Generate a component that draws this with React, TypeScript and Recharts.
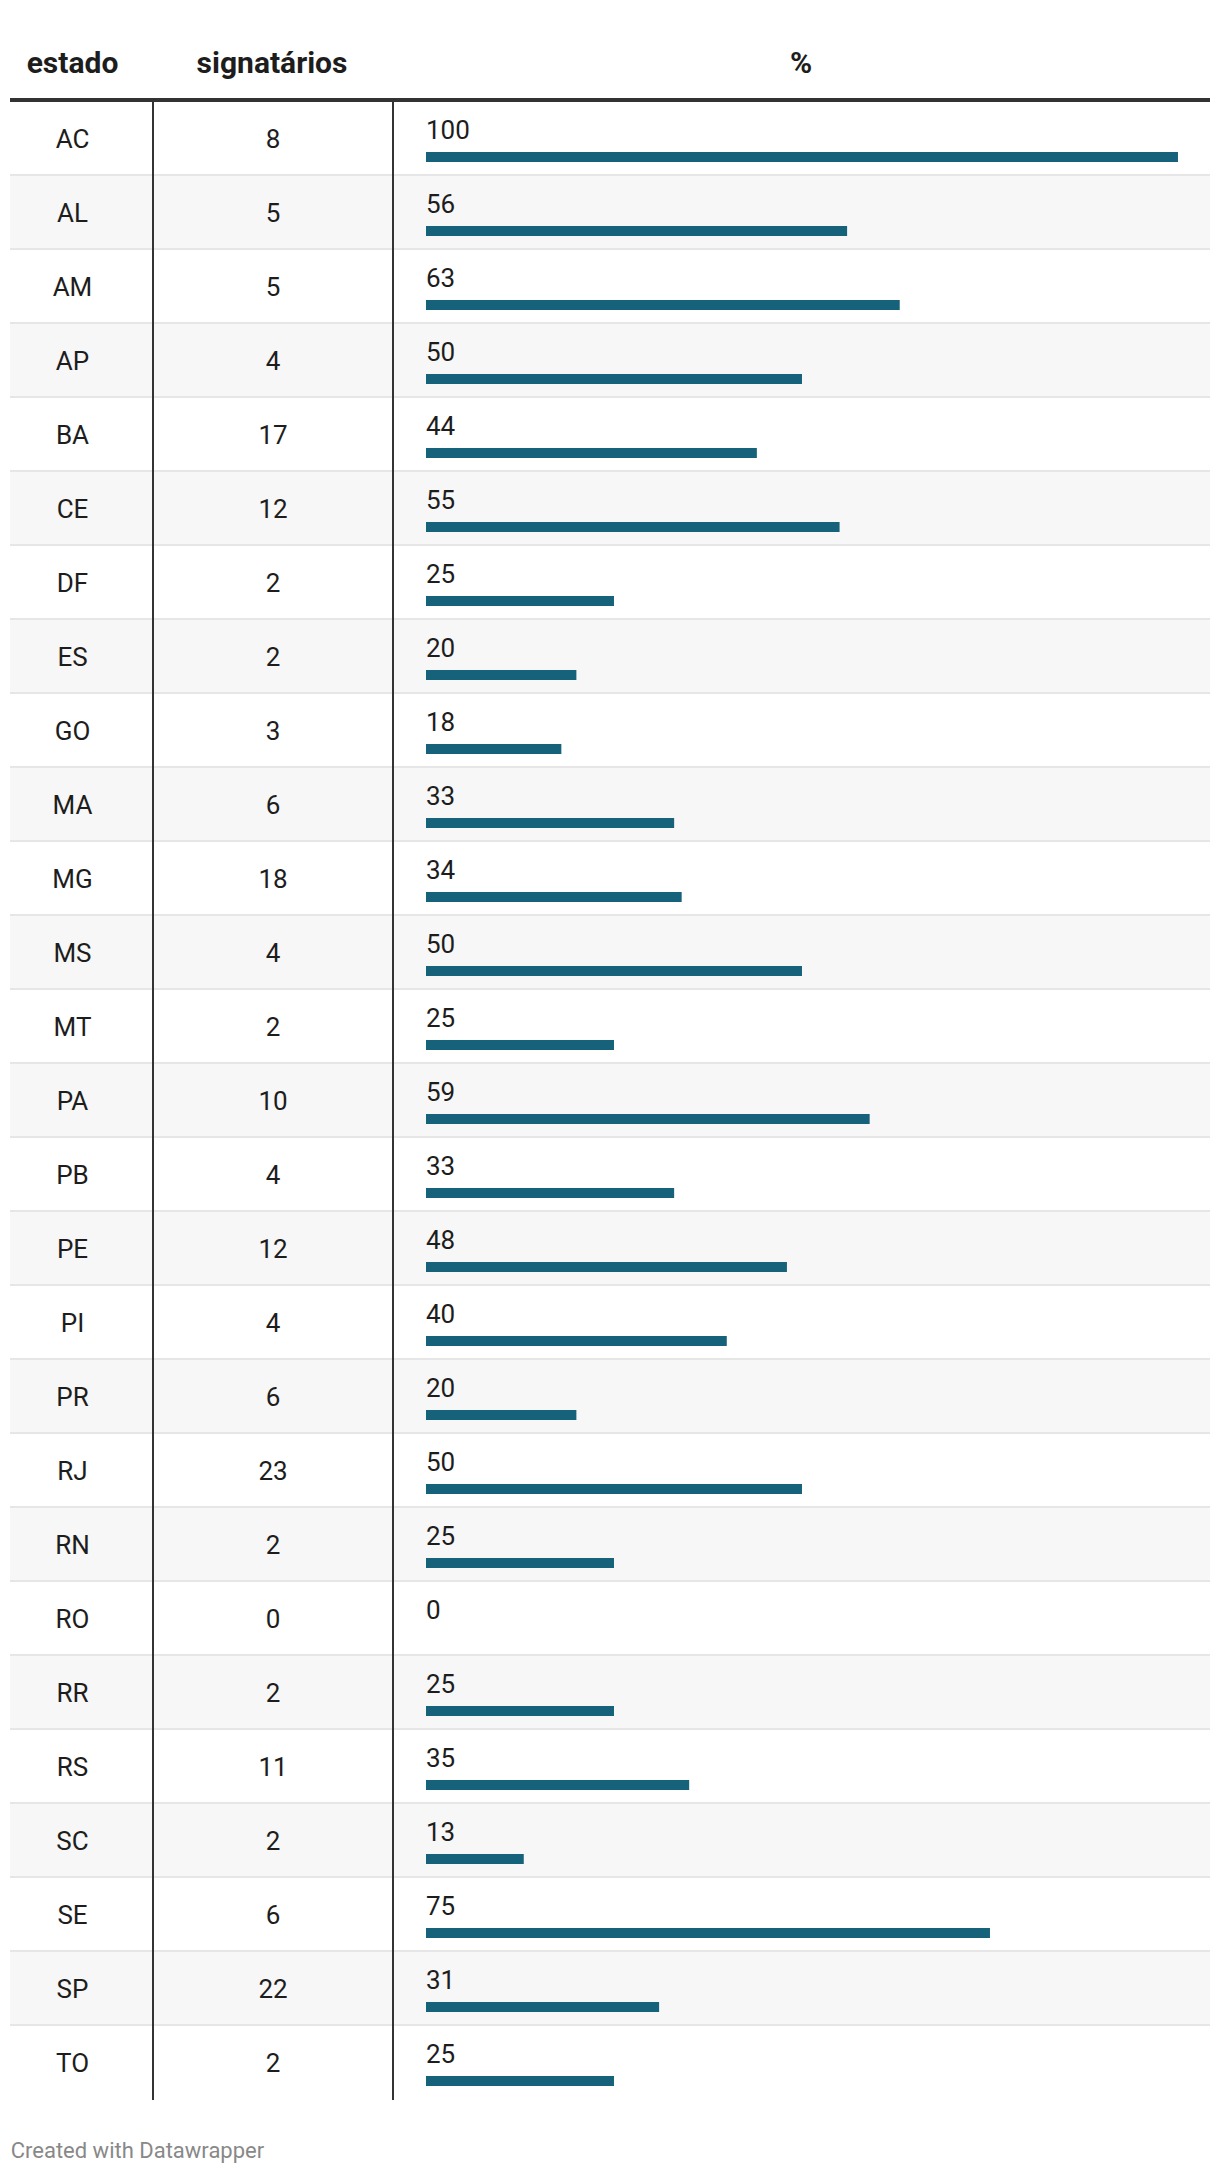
import { BarChart, Bar, XAxis, YAxis, LabelList, ReferenceArea, ReferenceLine } from 'recharts';

const estados = ['AC', 'AL', 'AM', 'AP', 'BA', 'CE', 'DF', 'ES', 'GO', 'MA', 'MG', 'MS', 'MT', 'PA', 'PB', 'PE', 'PI', 'PR', 'RJ', 'RN', 'RO', 'RR', 'RS', 'SC', 'SE', 'SP', 'TO'];
const signatarios = [8, 5, 5, 4, 17, 12, 2, 2, 3, 6, 18, 4, 2, 10, 4, 12, 4, 6, 23, 2, 0, 2, 11, 2, 6, 22, 2];
const percentuais = [100, 56, 63, 50, 44, 55, 25, 20, 18, 33, 34, 50, 25, 59, 33, 48, 40, 20, 50, 25, 0, 25, 35, 13, 75, 31, 25];
const headers = ['estado', 'signatários', '%'];

const BAR = '#17627b';
const TEXT = '#1d1d1d';
const FONT = 'Roboto, "Noto Sans", sans-serif';
const ROW_H = 74;

const data = estados.map((e, i) => ({ estado: e, signatarios: signatarios[i], pct: percentuais[i] }));

const chartW = 1200;
const chartH = ROW_H * estados.length;

// value axis stretched over the whole table width so the stripes span all columns
const xDomain = [-55.32, 104.26];

export default function App() {
  return (
    <div style={{ position: 'relative', width: 1212, height: 2166, fontFamily: FONT, background: '#fff' }}>
      <svg width={1212} height={100} style={{ position: 'absolute', left: 0, top: 0 }}>
        <text x={64.5} y={65.3} textAnchor="middle" fontSize={30} fontWeight={700} fill={TEXT} fontFamily={FONT}>{headers[0]}</text>
        <text x={264} y={65.3} textAnchor="middle" fontSize={30} fontWeight={700} fill={TEXT} fontFamily={FONT}>{headers[1]}</text>
        <text x={793} y={65.3} textAnchor="middle" fontSize={30} fontWeight={700} fill={TEXT} fontFamily={FONT}>{headers[2]}</text>
      </svg>
      <div style={{ position: 'absolute', left: 2, top: 93 }}>
        <BarChart width={chartW} height={chartH} data={data} layout="vertical" margin={{ top: 0, right: 0, bottom: 0, left: 0 }}>
          <XAxis type="number" hide domain={xDomain} allowDataOverflow />
          <YAxis type="category" dataKey="estado" hide />
          {estados.filter((_, i) => i % 2 === 1).map(e => (
            <ReferenceArea key={'a' + e} y1={e} y2={e} fill="#f7f7f7" fillOpacity={1} stroke="none" />
          ))}
          {estados.slice(1).map(e => (
            <ReferenceLine key={'l' + e} y={e} position="start" stroke="#e6e6e6" strokeWidth={2} />
          ))}
          <Bar
            dataKey="pct"
            barSize={10}
            isAnimationActive={false}
            shape={(p: any) => <rect x={p.x} y={p.y + 19} width={Math.max(p.width || 0, 0)} height={p.height} fill={BAR} />}
          >
            <LabelList
              dataKey="pct"
              content={(p: any) => (
                <text x={416} y={p.y + 6.3} fontSize={26} fill={TEXT} fontFamily={FONT}>{p.value}</text>
              )}
            />
            <LabelList
              dataKey="estado"
              content={(p: any) => (
                <text x={62.5} y={p.y + 15.3} textAnchor="middle" fontSize={26} fill={TEXT} fontFamily={FONT}>{p.value}</text>
              )}
            />
            <LabelList
              dataKey="signatarios"
              content={(p: any) => (
                <text x={263} y={p.y + 15.3} textAnchor="middle" fontSize={26} fill={TEXT} fontFamily={FONT}>{p.value}</text>
              )}
            />
          </Bar>
        </BarChart>
      </div>
      <svg width={1212} height={2166} style={{ position: 'absolute', left: 0, top: 0, pointerEvents: 'none' }}>
        <rect x={2} y={90} width={1200} height={4} fill="#333" />
        <rect x={144} y={94} width={2} height={chartH} fill="#333" />
        <rect x={384} y={94} width={2} height={chartH} fill="#333" />
        <text x={2.7} y={2150.3} fontSize={22} fill="#888" fontFamily={FONT}>Created with Datawrapper</text>
      </svg>
    </div>
  );
}
